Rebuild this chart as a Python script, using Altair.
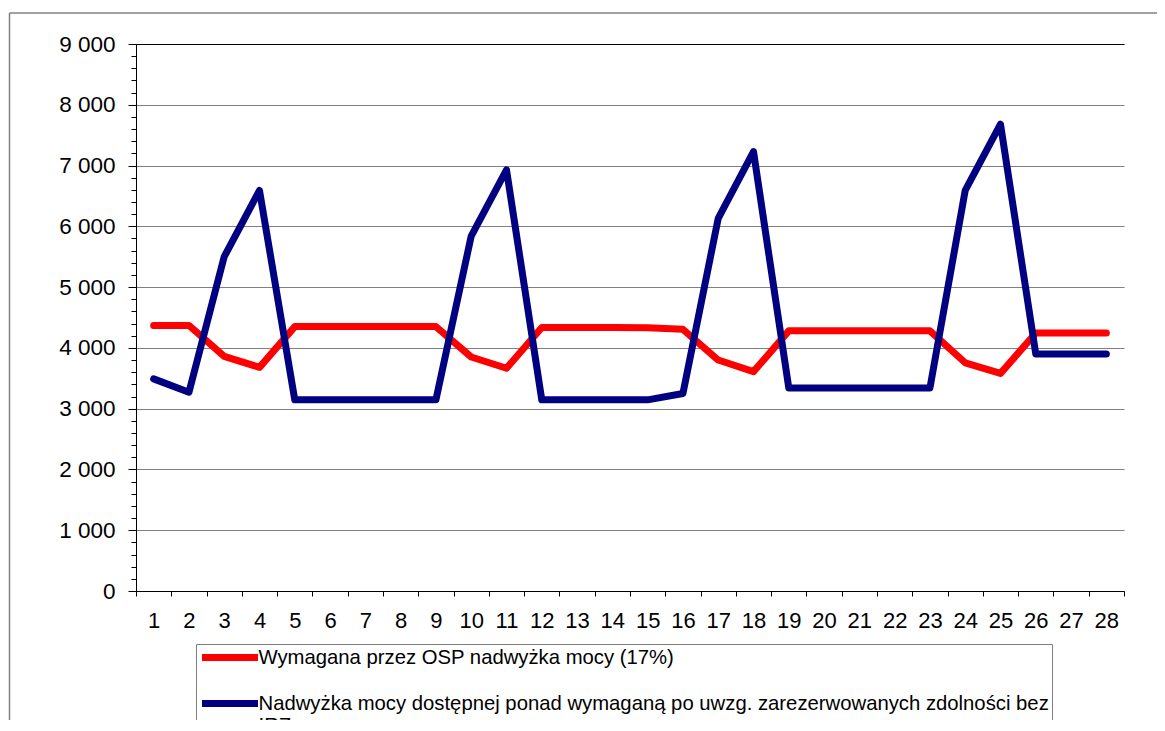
import altair as alt
import pandas as pd

# ---- data ----
days = list(range(1, 29))
red_vals = [4370, 4370, 3860, 3680, 4350, 4350, 4350, 4350, 4350, 3850, 3665, 4335, 4335, 4335,
            4330, 4305, 3800, 3610, 4280, 4280, 4280, 4280, 4280, 3755, 3580, 4245, 4245, 4245]
blue_vals = [3490, 3270, 5500, 6590, 3145, 3145, 3145, 3145, 3145, 5840, 6930, 3145, 3145, 3145,
             3145, 3250, 6130, 7230, 3340, 3340, 3340, 3340, 3340, 6590, 7680, 3900, 3900, 3900]
red_name = "Wymagana przez OSP nadwyżka mocy (17%)"
blue_name = "Nadwyżka mocy dostępnej ponad wymaganą po uwzg. zarezerwowanych zdolności bez IRZ"
blue_line1 = "Nadwyżka mocy dostępnej ponad wymaganą po uwzg. zarezerwowanych zdolności bez"
blue_line2 = "IRZ"
y_major = list(range(0, 9001, 1000))
y_minor = list(range(0, 9001, 200))
x_edges = [i + 0.5 for i in range(0, 29)]

df = pd.DataFrame({
    "dzien": days * 2,
    "wartosc": red_vals + blue_vals,
    "seria": [red_name] * 28 + [blue_name] * 28,
})

FONT = "Liberation Sans"
W, H = 988, 547
xscale = alt.Scale(domain=[0.5, 28.5], nice=False, zero=False)
yscale = alt.Scale(domain=[0, 9000], nice=False, zero=True)

label_expr = (
    "datum.label == '" + red_name + "' ? datum.label : ['" + blue_line1 + "', '" + blue_line2 + "']"
)

lines = alt.Chart(df).mark_line(strokeWidth=7, strokeCap="round", strokeJoin="round").encode(
    x=alt.X("dzien:Q", scale=xscale,
            axis=alt.Axis(values=days, title=None, tickSize=0, labelPadding=19, orient="bottom",
                          labelFontSize=22, labelFont=FONT, labelColor="black",
                          domainColor="black", domainWidth=1, grid=False,
                          labelFlush=False, labelOverlap=False)),
    y=alt.Y("wartosc:Q", scale=yscale,
            axis=alt.Axis(values=y_major, title=None, tickSize=8, tickColor="black", orient="left",
                          labelPadding=13, labelFontSize=22.5, labelFont=FONT,
                          labelColor="black", domainColor="black", domainWidth=1,
                          grid=True, gridWidth=1,
                          gridColor={"condition": {"test": "datum.value == 9000", "value": "black"},
                                     "value": "#808080"},
                          labelExpr="replace(format(datum.value, ','), ',', ' ')")),
    color=alt.Color("seria:N",
                    scale=alt.Scale(domain=[red_name, blue_name], range=["#FF0000", "#000080"]),
                    legend=alt.Legend(title=None, orient="none", legendX=60, legendY=600,
                                      direction="vertical", symbolType="M-4,0H4",
                                      symbolSize=196, symbolStrokeWidth=7, symbolOffset=20.5,
                                      labelFont=FONT, labelFontSize=20.3, labelColor="black",
                                      labelLimit=1000, labelOffset=18, padding=3, rowPadding=17,
                                      strokeColor="#808080", fillColor="white",
                                      labelExpr=label_expr)),
)

ticks = alt.Chart(df).mark_point(opacity=0).encode(
    x=alt.X("dzien:Q", scale=xscale,
            axis=alt.Axis(values=x_edges, labels=False, tickSize=5, tickColor="black",
                          domain=False, grid=False, title=None, orient="bottom")),
    y=alt.Y("wartosc:Q", scale=yscale,
            axis=alt.Axis(values=y_minor, labels=False, tickSize=5, tickColor="black",
                          domain=False, grid=False, title=None, orient="left")),
)

frame_df = pd.DataFrame({"k": [0]})
frame_left = alt.Chart(frame_df).mark_rule(color="#808080", strokeWidth=1.5).encode(
    x=alt.value(-126.5), y=alt.value(-31), y2=alt.value(720))
frame_top = alt.Chart(frame_df).mark_rule(color="#808080", strokeWidth=1.5).encode(
    x=alt.value(-126.5), x2=alt.value(1100), y=alt.value(-31))

chart = alt.layer(frame_left, frame_top, ticks, lines).resolve_axis(
    x="independent", y="independent"
).properties(
    width=W, height=H,
    autosize=alt.AutoSizeParams(type="none"),
    padding={"left": 128, "top": 36, "right": 33, "bottom": 129},
    background="white",
).configure_view(stroke=None)

chart.save("out.html", embed_options={"renderer": "svg", "actions": False})
